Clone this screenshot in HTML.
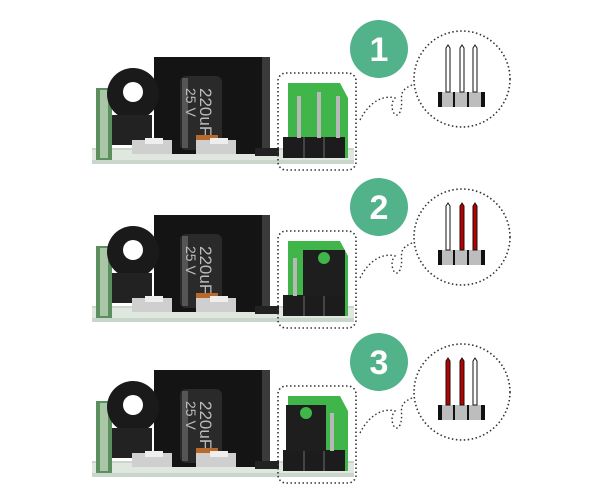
<!DOCTYPE html>
<html><head><style>body{margin:0;background:#fff}svg{display:block}</style></head><body>
<svg width="600" height="500" viewBox="0 0 600 500" font-family="Liberation Sans, sans-serif">
<defs>
<g id="board">
  <rect x="92" y="148" width="262" height="16" fill="#c9d6cc"/>
  <rect x="92" y="150" width="262" height="10" fill="#dfe7df"/>
  <rect x="96" y="88" width="16" height="72" fill="#5c8f5e"/>
  <rect x="100" y="90" width="8" height="68" fill="#a9c6a6"/>
  <rect x="154" y="57" width="115" height="97" fill="#141414"/>
  <rect x="262" y="57" width="8" height="97" fill="#3a3a3a"/>
  <circle cx="133" cy="94" r="26" fill="#1a1a1a"/>
  <circle cx="133" cy="92" r="10" fill="#fff"/>
  <rect x="112" y="115" width="40" height="30" fill="#222"/>
  <rect x="180" y="76" width="42" height="74" rx="6" fill="#2a2a2a"/>
  <rect x="182" y="78" width="6" height="70" fill="#555"/>
  <text x="200" y="88" font-size="17" fill="#bbb" transform="rotate(90 200 88)">220uF</text>
  <text x="186" y="88" font-size="14" fill="#bbb" transform="rotate(90 186 88)">25 V</text>
  <rect x="196" y="135" width="22" height="18" fill="#b86a2c"/>
  <rect x="132" y="140" width="40" height="14" fill="#cfcfcf"/>
  <rect x="196" y="140" width="40" height="14" fill="#cfcfcf"/>
  <rect x="145" y="138" width="18" height="6" fill="#eee"/>
  <rect x="210" y="138" width="18" height="6" fill="#eee"/>
  <rect x="255" y="148" width="24" height="8" fill="#222"/>
  <path d="M288 83 L340 83 L348 98 L348 158 L288 158 Z" fill="#3fb54a"/>
  <rect x="283" y="137" width="62" height="21" fill="#1c1c1c"/>
  <rect x="303" y="137" width="2" height="21" fill="#444"/><rect x="323" y="137" width="2" height="21" fill="#444"/>
  <rect x="278" y="73" width="78" height="97" rx="8" fill="none" stroke="#333" stroke-width="1.6" stroke-dasharray="1.5 2.5"/>
  <path d="M360 120 C370 100 385 95 395 98 C388 105 395 122 400 112 C405 100 395 92 412 85" fill="none" stroke="#333" stroke-width="1.4" stroke-dasharray="1.5 2.5"/>
  <circle cx="462" cy="79" r="48" fill="none" stroke="#333" stroke-width="1.6" stroke-dasharray="1.5 2.5"/>
  <rect x="438" y="92" width="47" height="15" fill="#bdbdbd"/>
  <rect x="438" y="92" width="4" height="15" fill="#111"/><rect x="481" y="92" width="4" height="15" fill="#111"/>
  <rect x="453" y="92" width="2" height="15" fill="#111"/><rect x="467" y="92" width="2" height="15" fill="#111"/>
  <circle cx="379" cy="49" r="29" fill="#52b38a"/>
</g>
</defs>
<g>
  <use href="#board"/>
  <rect x="297" y="96" width="4" height="42" fill="#b8b8b8"/><rect x="317" y="92" width="4" height="46" fill="#b8b8b8"/><rect x="336" y="96" width="4" height="42" fill="#b8b8b8"/>
  <g fill="#fff" stroke="#111" stroke-width="1"><path d="M446 92 V48 L448 45 L450 48 V92Z"/><path d="M460 92 V48 L462 45 L464 48 V92Z"/><path d="M473 92 V48 L475 45 L477 48 V92Z"/></g>
  <text x="379" y="61" font-size="34" font-weight="bold" fill="#fff" text-anchor="middle">1</text>
</g>
<g transform="translate(0,158)">
  <use href="#board"/>
  <rect x="293" y="100" width="4" height="38" fill="#b8b8b8"/>
  <rect x="303" y="92" width="42" height="46" fill="#1e1e1e"/>
  <circle cx="324" cy="100" r="6" fill="#3fb54a"/>
  <g stroke="#111" stroke-width="1"><path d="M446 92 V48 L448 45 L450 48 V92Z" fill="#fff"/><path d="M460 92 V48 L462 45 L464 48 V92Z" fill="#b00"/><path d="M473 92 V48 L475 45 L477 48 V92Z" fill="#b00"/></g>
  <text x="379" y="61" font-size="34" font-weight="bold" fill="#fff" text-anchor="middle">2</text>
</g>
<g transform="translate(0,313)">
  <use href="#board"/>
  <rect x="330" y="100" width="4" height="38" fill="#b8b8b8"/>
  <rect x="286" y="92" width="40" height="46" fill="#1e1e1e"/>
  <circle cx="306" cy="100" r="6" fill="#3fb54a"/>
  <g stroke="#111" stroke-width="1"><path d="M446 92 V48 L448 45 L450 48 V92Z" fill="#b00"/><path d="M460 92 V48 L462 45 L464 48 V92Z" fill="#b00"/><path d="M473 92 V48 L475 45 L477 48 V92Z" fill="#fff"/></g>
  <text x="379" y="61" font-size="34" font-weight="bold" fill="#fff" text-anchor="middle">3</text>
</g>
</svg>
</body></html>
